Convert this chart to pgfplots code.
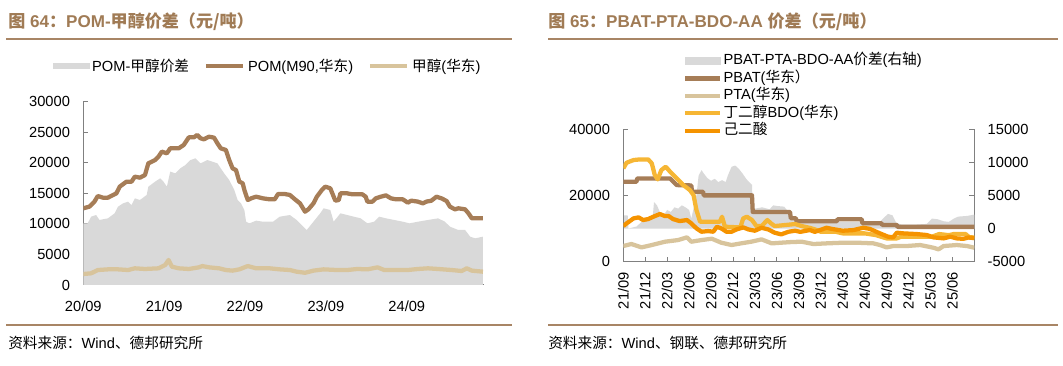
\documentclass[border=0pt]{standalone}
\usepackage{fontspec}
\setmainfont{Liberation Sans}
\newfontfamily\cjk{Noto Sans CJK SC}
\usepackage{pgfplots}
\pgfplotsset{compat=1.18}
\definecolor{titlebrown}{HTML}{A07B55}
\definecolor{rulebrown}{HTML}{A88565}
\definecolor{spreadgray}{HTML}{D9D9D9}
\definecolor{pombrown}{HTML}{A67D57}
\definecolor{methtan}{HTML}{D8C49C}
\definecolor{bdoyellow}{HTML}{F6B634}
\definecolor{aaorange}{HTML}{F59300}
\definecolor{axisgray}{HTML}{808080}

\pgfplotsset{
  common/.style={
    scale only axis,
    scaled x ticks=false, scaled y ticks=false,
    axis line style={axisgray, line width=0.75pt, -},
    tick style={axisgray, line width=0.75pt},
    major tick length=3.75pt,
    xtick align=inside, ytick align=inside,
    ticklabel style={font=\fontsize{11}{13}\selectfont, text=black},
    yticklabel shift=6.5pt,
    every axis legend/.append style={font=\fontsize{11}{13}\selectfont},
  },
  lineimg/.style={legend image code/.code={\draw[##1, line width=3.2pt] (0pt,0pt) -- (#1,0pt);}},
  areaimg/.style={legend image code/.code={\fill[spreadgray] (0pt,-2.5pt) rectangle (#1,2.5pt);}},
}

\begin{document}
\begin{tikzpicture}
\useasboundingbox (0pt,0pt) rectangle (797.25pt,-274.5pt);

% ---------- titles, rules, sources ----------
\node[anchor=base west, inner sep=0pt, text=titlebrown, font=\fontsize{12.8}{15}\selectfont\bfseries]
  at (6pt,-20.6pt) {{\cjk 图} 64{\cjk ：}POM-{\cjk 甲醇价差（元/吨）}};
\node[anchor=base west, inner sep=0pt, text=titlebrown, font=\fontsize{12.8}{15}\selectfont\bfseries]
  at (411pt,-20.6pt) {{\cjk 图} 65{\cjk ：}PBAT-PTA-BDO-AA {\cjk 价差（元/吨）}};
\draw[rulebrown, line width=1.5pt] (4.5pt,-29.6pt) -- (384pt,-29.6pt);
\draw[rulebrown, line width=1.5pt] (411pt,-29.6pt) -- (793.5pt,-29.6pt);
\draw[rulebrown, line width=1.5pt] (4.5pt,-244.1pt) -- (384pt,-244.1pt);
\draw[rulebrown, line width=1.5pt] (411pt,-244.1pt) -- (793.5pt,-244.1pt);
\node[anchor=base west, inner sep=0pt, font=\fontsize{11}{13}\selectfont]
  at (6pt,-261.5pt) {{\cjk 资料来源：}Wind{\cjk 、德邦研究所}};
\node[anchor=base west, inner sep=0pt, font=\fontsize{11}{13}\selectfont]
  at (411pt,-261.5pt) {{\cjk 资料来源：}Wind{\cjk 、钢联、德邦研究所}};

% ---------- left chart ----------
\begin{axis}[common,
  at={(62.48pt,-213.75pt)}, anchor=south west,
  width=300.75pt, height=137.5pt,
  xmin=0, xmax=59.5, ymin=0, ymax=30000,
  axis x line*=bottom, axis y line*=left,
  xtick={0,12,24,36,48}, xticklabels={20/09,21/09,22/09,23/09,24/09},
  xticklabel shift=8pt,
  ytick={0,5000,10000,15000,20000,25000,30000},
  yticklabels={0,5000,10000,15000,20000,25000,30000},
  legend columns=3,
  legend style={at={(-0.075,1.195)}, anchor=west, draw=none, fill=none, inner sep=0pt,
    /tikz/every even column/.append style={column sep=9pt}},
]
\addplot[fill=spreadgray, draw=none, areaimg=27pt] coordinates {
(0,10090) (0.65,10090) (1.15,11180) (1.9,11450) (2.4,10640) (3.65,10910) (4.65,11730) (5.15,12820)
(5.9,13360) (6.65,13640) (7.15,13090) (7.65,14180) (8.4,13910) (9.4,14730) (9.65,16090) (10.65,16910)
(11.4,17450) (11.9,16910) (12.4,16090) (12.9,18550) (13.65,18270) (14.4,19090) (15.15,19640) (15.9,20450)
(16.65,20730) (17.4,19910) (18.4,20450) (19.15,20180) (19.9,19910) (20.4,19090) (20.9,18270) (21.65,17180)
(22.4,15550) (22.9,13910) (23.4,13360) (23.9,12270) (24.15,10360) (24.65,10090) (25.65,10530) (26.65,10360)
(28.15,10360) (29.15,11180) (30.65,11450) (31.65,10640) (32.65,9550) (33.15,9000) (34.15,10360) (35.15,11730)
(35.65,12550) (36.65,12270) (37.15,10360) (38.15,11730) (39.15,11450) (41.15,10910) (42.15,10090) (43.15,10360)
(43.9,11180) (44.9,10910) (46.15,10640) (47.4,10360) (48.4,10090) (49.65,10360) (51.15,10640) (52.65,10910)
(53.65,10360) (54.4,9550) (55.65,9000) (56.65,9000) (57.4,7910) (58.15,7640) (59.3,7910)
} \closedcycle;
\addlegendentry{POM-{\cjk 甲醇价差}}
\addplot[pombrown, line width=3.2pt, line join=round, lineimg=28pt] coordinates {
(0,12550) (0.9,12820) (1.65,13640) (2.15,14560) (2.9,14290) (3.65,14290) (4.9,15000) (5.4,16090)
(6.4,16910) (7.15,16910) (7.65,17730) (8.4,17560) (9.15,18000) (9.65,19910) (10.65,20450) (11.15,21000)
(11.65,21820) (12.4,21550) (12.9,22360) (14.15,22360) (14.9,22910) (15.65,24160) (16.4,24160) (16.9,24550)
(17.4,24000) (17.9,23840) (18.65,24270) (19.4,24110) (19.9,23180) (20.4,22360) (21.15,22090) (21.65,20450)
(22.15,19090) (22.65,18820) (23.15,16910) (23.65,16640) (23.9,15550) (24.4,13910) (24.9,14180) (25.65,14450)
(26.65,14180) (27.65,14020) (28.4,14020) (28.9,14890) (29.9,14890) (30.65,14730) (31.4,14020) (32.15,13360)
(32.9,12000) (33.4,12380) (34.15,13360) (34.65,14450) (35.4,15550) (35.9,16090) (36.65,15820) (37.15,14450)
(37.4,13800) (37.9,13910) (38.15,15000) (39.15,15000) (39.9,14840) (41.4,14840) (41.9,14450) (42.15,13640)
(42.9,13640) (43.4,14180) (44.15,14450) (44.9,14670) (45.65,14180) (46.4,14020) (47.4,14020) (48.15,13470)
(48.65,13800) (49.65,13640) (50.4,13360) (50.9,13640) (51.65,13800) (52.4,14450) (53.15,14180) (53.9,13750)
(54.4,12820) (55.15,12380) (55.65,12550) (56.65,12380) (57.15,11730) (57.65,10910) (58.65,10910) (59.3,10910)
};
\addlegendentry{POM(M90,{\cjk 华东})}
\addplot[methtan, line width=3.2pt, line join=round, lineimg=28pt] coordinates {
(0,1800) (1.15,1910) (2.15,2450) (3.65,2560) (5.15,2560) (6.65,2450) (7.65,2730) (9.15,2620)
(11.15,2730) (12.15,3270) (12.65,4090) (13.15,3000) (14.15,2730) (15.65,2620) (17.15,2890) (17.65,3100)
(18.65,2890) (20.15,2730) (21.15,2450) (22.15,2350) (23.15,2560) (24.4,3100) (25.65,2730) (27.65,2730)
(29.15,2560) (30.65,2450) (31.65,2180) (32.9,2000) (34.15,2350) (35.65,2560) (37.65,2450) (39.15,2450)
(40.65,2620) (42.15,2560) (43.65,2890) (44.65,2450) (46.65,2450) (48.15,2450) (49.65,2620) (51.15,2730)
(52.65,2620) (54.65,2450) (56.15,2290) (56.9,2730) (57.65,2350) (59.3,2180)
};
\addlegendentry{{\cjk 甲醇}({\cjk 华东})}
\end{axis}

% ---------- right chart: spread on right axis ----------
\begin{axis}[common,
  at={(467.48pt,-196.28pt)}, anchor=south west,
  width=263.25pt, height=99.5pt,
  xmin=0, xmax=48, ymin=-5000, ymax=15000,
  axis x line=none, axis y line*=right,
  ytick={-5000,0,5000,10000,15000},
  yticklabels={-5000,0,5000,10000,15000},
]
\addplot[fill=spreadgray, draw=none] coordinates {
(0,2000) (0.6,2000) (0.7,0) (1.8,300) (2.5,1000) (3.5,1200) (4.0,1500) (4.2,4000) (4.6,3500) (5.0,2500)
(5.5,2000) (6.0,2800) (6.5,2500) (7.0,3200) (7.5,3000) (8.0,3500) (8.5,3200) (9.0,2800) (9.3,1500) (9.6,3000)
(10.0,5000) (10.3,8000) (10.7,8800) (11.0,8300) (11.5,7600) (12.0,7200) (12.5,7500) (13.0,7000) (13.5,7300)
(14.0,7000) (14.3,8000) (14.8,9300) (15.3,9500) (15.8,9000) (16.3,8300) (16.8,7500) (17.2,7000) (17.6,6600)
(17.7,3300) (18.0,3000) (19.0,3200) (20.0,2900) (20.5,3500) (21.0,3400) (22.0,3300) (22.8,2200) (23.5,1500)
(24.2,1300) (25.5,1200) (27.0,1000) (29.2,1300) (29.5,1000) (32.6,1000) (33.0,800) (35.0,900) (35.5,1500)
(36.2,2200) (36.8,2000) (37.3,900) (38.0,600) (40.0,600) (41.5,700) (42.2,1500) (43.0,1400) (43.8,1100)
(44.5,1000) (45.2,1500) (45.8,1800) (47.0,1900) (48.0,2100)
} \closedcycle;
\end{axis}

% ---------- right chart: prices on left axis ----------
\begin{axis}[common,
  at={(467.48pt,-196.28pt)}, anchor=south west,
  width=263.25pt, height=99.5pt,
  xmin=0, xmax=48, ymin=0, ymax=40000,
  axis x line*=bottom, axis y line*=left,
  xtick={0,3,...,45},
  xticklabels={21/09,21/12,22/03,22/06,22/09,22/12,23/03,23/06,23/09,23/12,24/03,24/06,24/09,24/12,25/03,25/06},
  xticklabel style={rotate=90, anchor=east},
  xticklabel shift=4.5pt,
  ytick={0,20000,40000}, yticklabels={0,20000,40000},
  legend cell align=left,
  legend style={at={(0.170,1.578)}, anchor=north west, draw=none, fill=none, inner sep=0pt,
    row sep=0.6pt, nodes={inner sep=1pt, text height=8pt, text depth=2.5pt}},
]
\addlegendimage{areaimg=26pt}
\addlegendentry{PBAT-PTA-BDO-AA{\cjk 价差}({\cjk 右轴})}
\addplot[pombrown, line width=3.2pt, line join=round, lineimg=26pt] coordinates {
(0,24100) (1.8,24100) (1.9,25100) (6.4,25100) (7.3,23100) (9.3,23000) (9.4,21100) (10.9,21100) (11.0,20000)
(17.6,20000) (17.7,15000) (22.8,15000) (22.9,13100) (23.6,13100) (23.7,12200) (29.2,12200) (29.3,12800)
(32.6,12800) (32.7,11600) (35.3,11600) (35.4,11100) (37.4,11100) (37.5,10500) (48,10500)
};
\addlegendentry{PBAT({\cjk 华东）}}
\addplot[methtan, line width=3.2pt, line join=round, lineimg=26pt] coordinates {
(0,4730) (1.1,5330) (2.5,4320) (3.9,5030) (5.7,6030) (7.5,6530) (8.7,7340) (9.3,6030) (10.7,6530) (12.1,6930)
(13.4,5730) (14.8,5030) (16.1,5530) (17.5,6030) (18.9,6730) (20.3,5530) (21.6,5730) (23.0,5930) (24.4,6030)
(26.0,5330) (27.8,5530) (30.1,5730) (31.9,5730) (34.2,5530) (35.1,5030) (36.0,4320) (36.9,4720) (38.7,4720)
(40.6,5030) (42.4,4220) (43.1,3720) (43.8,4720) (45.6,5030) (47.0,4720) (48.0,4220)
};
\addlegendentry{PTA({\cjk 华东})}
\addplot[bdoyellow, line width=3.2pt, line join=round, lineimg=26pt] coordinates {
(0,28150) (0.45,29850) (1.4,30650) (2.3,30850) (3.4,30850) (3.9,29640) (4.3,26130) (4.7,24820) (5.2,27630)
(5.8,28640) (6.4,27130) (7.3,25120) (8.2,23110) (9.1,21600) (9.6,20100) (10.0,15570) (10.5,12050) (12.5,12050)
(13.2,12050) (13.5,13560) (13.9,10540) (16.0,10340) (16.4,13060) (16.9,13560) (17.6,12560) (18.2,10740)
(18.9,10740) (19.7,12560) (20.2,11550) (20.7,10740) (22.1,11050) (23.5,11350) (24.4,10740) (25.5,10200)
(26.2,9740) (27.0,9040) (29.0,9040) (30.0,8540) (33.0,8540) (34.5,8040) (35.3,7500) (36.0,7030) (37.4,7030)
(38.0,7540) (42.2,7540) (43.2,8340) (44.5,8000) (45.2,8340) (46.8,8340) (47.3,7400) (48.0,7300)
};
\addlegendentry{{\cjk 丁二醇}BDO({\cjk 华东})}
\addplot[aaorange, line width=3.2pt, line join=round, lineimg=26pt] coordinates {
(0,10740) (0.45,11550) (1.4,13060) (2.1,13360) (2.7,12560) (3.4,12860) (4.1,13560) (5.0,14370) (5.7,13760)
(6.2,13760) (6.8,12860) (7.7,12250) (8.7,12560) (9.3,11550) (10.0,10040) (10.7,9040) (11.6,9240) (12.3,9040)
(12.8,10540) (13.4,10040) (14.1,9040) (14.8,9040) (15.5,9740) (16.4,10340) (17.1,9740) (18.0,9340) (18.9,10240)
(19.8,9740) (20.7,8740) (21.6,8240) (22.6,9040) (23.5,9340) (24.2,9000) (25.5,9540) (26.2,9000) (27.8,10240)
(28.5,9900) (30.0,9340) (31.5,9540) (32.8,10240) (33.7,9900) (35.1,8540) (36.2,7540) (36.9,7340) (37.4,8740)
(38.3,8540) (40.1,8340) (41.5,8040) (42.4,7340) (43.8,7030) (44.7,7540) (45.6,7030) (46.5,6900) (47.2,7300)
(48.0,7100)
};
\addlegendentry{{\cjk 己二酸}}
\end{axis}
\end{tikzpicture}
\end{document}
